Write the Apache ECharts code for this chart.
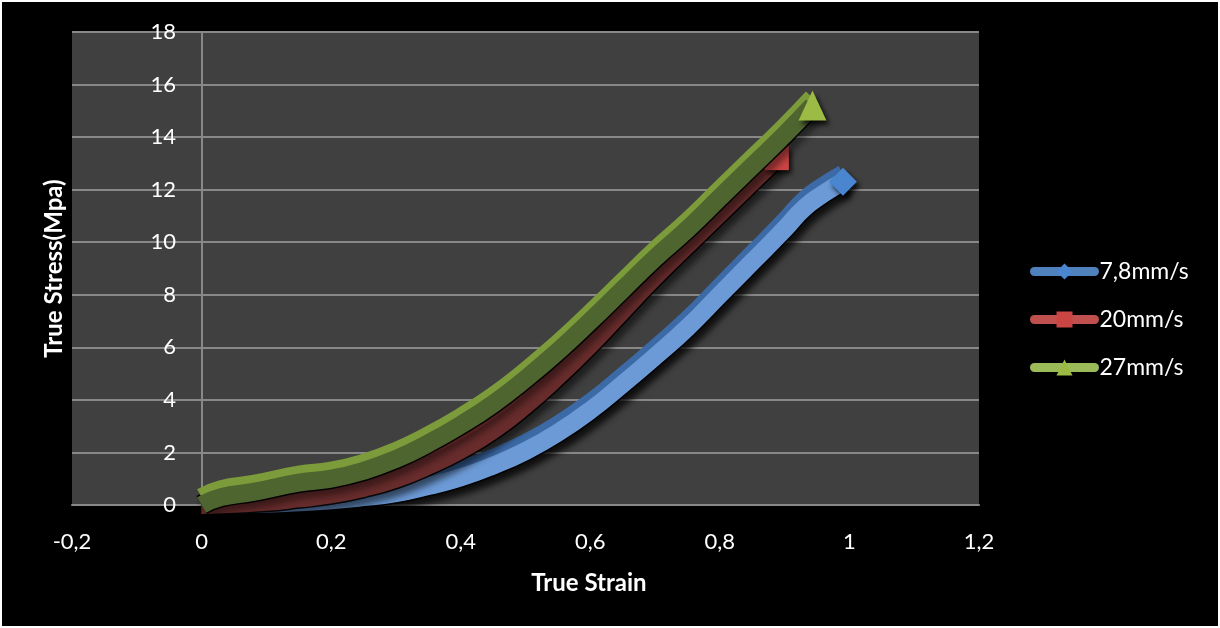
<!DOCTYPE html>
<html><head><meta charset="utf-8">
<script src="https://cdn.jsdelivr.net/npm/echarts@6/dist/echarts.min.js"></script>
<style>html,body{margin:0;padding:0;background:#000}#c{width:1220px;height:628px}</style>
</head><body><div id="c"></div>
<script>
const xTicks = [-0.2, 0, 0.2, 0.4, 0.6, 0.8, 1, 1.2];
const yTicks = [0, 2, 4, 6, 8, 10, 12, 14, 16, 18];
const seriesNames = ['7,8mm/s', '20mm/s', '27mm/s'];

const strain78 = [0, 0.05, 0.1, 0.15, 0.2, 0.25, 0.3, 0.35, 0.4, 0.45, 0.5, 0.55, 0.6, 0.65, 0.7, 0.75, 0.8, 0.85, 0.9, 0.93, 0.96, 0.99];
const stress78 = [0, 0.02, 0.05, 0.1, 0.18, 0.3, 0.45, 0.72, 1.05, 1.5, 2.05, 2.75, 3.6, 4.6, 5.65, 6.75, 8.0, 9.25, 10.5, 11.3, 11.85, 12.3];

const strain20 = [0, 0.05, 0.1, 0.15, 0.2, 0.25, 0.3, 0.35, 0.4, 0.45, 0.5, 0.55, 0.6, 0.65, 0.7, 0.75, 0.8, 0.85, 0.888];
const stress20 = [0, 0.05, 0.12, 0.25, 0.4, 0.65, 1.0, 1.5, 2.1, 2.85, 3.8, 4.9, 6.1, 7.4, 8.7, 9.9, 11.1, 12.3, 13.2];

const strain27 = [0, 0.03, 0.08, 0.15, 0.2, 0.25, 0.3, 0.35, 0.4, 0.45, 0.5, 0.55, 0.6, 0.65, 0.7, 0.75, 0.8, 0.85, 0.9, 0.943];
const stress27 = [0, 0.3, 0.5, 0.85, 1.0, 1.3, 1.75, 2.35, 3.05, 3.85, 4.8, 5.85, 7.0, 8.2, 9.4, 10.5, 11.7, 12.9, 14.1, 15.2];

const FONT = 'Lato, "Noto Sans", sans-serif';
const fmt = v => String(Math.round(v * 10) / 10).replace('.', ',');
const pairs = (xs, ys) => xs.map((x, i) => [x, ys[i]]);

const styles = [
  {front: '#6c9ad6', top: '#3c6aa6', marker: '#4a86d0', legend: '#4f81bd', symbol: 'diamond', size: [28, 28], sh: 'rgba(0,0,0,0.85)'},
  {front: '#682c2c', top: '#8a3434', marker: '#cc4545', legend: '#c0504d', symbol: 'rect', size: [24, 24], sh: 'rgba(0,0,0,0.6)'},
  {front: '#4f6530', top: '#7c9b3b', marker: '#9bbb44', legend: '#9bbb59', symbol: 'triangle', size: [28, 30], sh: 'rgba(0,0,0,0.45)'}
];
const datasets = [pairs(strain78, stress78), pairs(strain20, stress20), pairs(strain27, stress27)];

const series = [];
datasets.forEach((d, k) => {
  const st = styles[k];
  const last = d.length - 1;
  series.push({
    type: 'line', name: '_shadow' + k, data: d, smooth: true, clip: false, silent: true,
    symbol: 'none',
    lineStyle: {color: 'rgba(0,0,0,0.9)', width: 21, shadowColor: st.sh, shadowBlur: 6, shadowOffsetX: 4, shadowOffsetY: 6},
    z: 2 + k * 2
  });
  series.push({
    type: 'line', name: seriesNames[k], data: d, smooth: true, clip: false,
    symbol: st.symbol,
    symbolSize: (v, p) => p.dataIndex === last ? st.size : 0,
    itemStyle: {color: st.marker, shadowColor: 'rgba(0,0,0,0.8)', shadowBlur: 5, shadowOffsetX: 3, shadowOffsetY: 4},
    lineStyle: {color: st.front, width: 18, shadowColor: st.top, shadowBlur: 0, shadowOffsetX: 0, shadowOffsetY: -8},
    z: 3 + k * 2
  });
});

const chart = echarts.init(document.getElementById('c'), null, {renderer: 'canvas'});
chart.setOption({
  backgroundColor: '#000',
  animation: false,
  grid: {left: 72, right: 241, top: 32, bottom: 123, show: true, backgroundColor: '#404040', borderWidth: 0,
         containLabel: false, outerBoundsMode: 'none'},
  xAxis: {
    type: 'value', min: xTicks[0], max: xTicks[xTicks.length - 1], interval: 0.2,
    axisLine: {show: true, lineStyle: {color: '#888', width: 2}},
    axisTick: {show: false},
    splitLine: {show: false},
    axisLabel: {color: '#fff', fontFamily: FONT, fontSize: 22, margin: 26, formatter: fmt}
  },
  yAxis: {
    type: 'value', min: yTicks[0], max: yTicks[yTicks.length - 1], interval: 2,
    name: 'True Stress(Mpa)', nameLocation: 'middle', nameRotate: 90, nameGap: 6,
    nameTextStyle: {color: '#fff', fontFamily: FONT, fontSize: 24, fontWeight: 'bold'},
    axisLine: {show: true, onZero: true, lineStyle: {color: '#888', width: 2}},
    axisTick: {show: false},
    splitLine: {show: true, lineStyle: {color: '#888', width: 2}},
    axisLabel: {color: '#fff', fontFamily: FONT, fontSize: 22, margin: -104, formatter: fmt}
  },
  legend: {
    orient: 'vertical', left: 1025, top: 255, itemWidth: 60, itemHeight: 20, itemGap: 25,
    textStyle: {color: '#fff', fontFamily: FONT, fontSize: 23},
    data: seriesNames.map((n, k) => ({
      name: n,
      itemStyle: {color: styles[k].marker, shadowBlur: 0, shadowColor: 'transparent', shadowOffsetX: 0, shadowOffsetY: 0},
      lineStyle: {color: styles[k].legend, width: 9, cap: 'round', shadowBlur: 0, shadowColor: 'transparent', shadowOffsetX: 0, shadowOffsetY: 0}
    }))
  },
  graphic: [
    {type: 'text', x: 589, y: 583, style: {text: 'True Strain', fill: '#fff', font: 'bold 24px ' + FONT, align: 'center', verticalAlign: 'middle'}},
    {type: 'rect', shape: {x: 1, y: 1, width: 1218, height: 626}, style: {fill: 'none', stroke: '#fff', lineWidth: 2}, silent: true, z: 100}
  ],
  series: series
});
</script>
</body></html>
